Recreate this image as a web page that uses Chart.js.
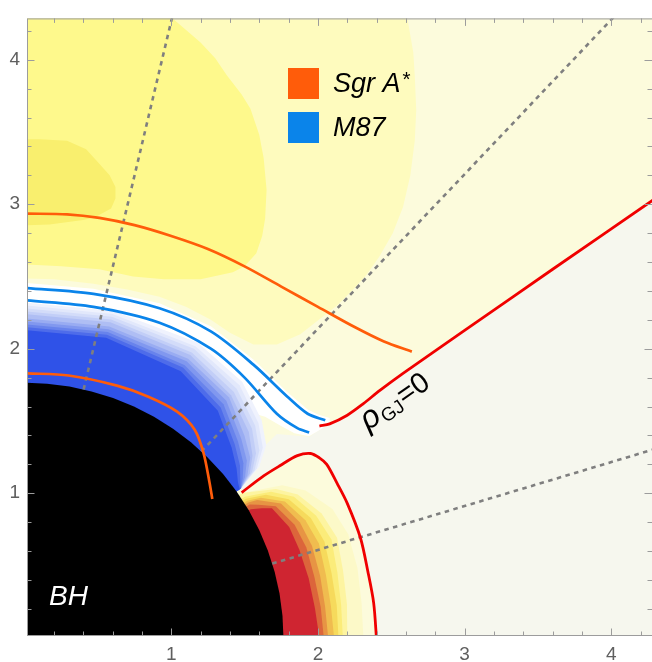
<!DOCTYPE html>
<html>
<head>
<meta charset="utf-8">
<script src="https://cdn.jsdelivr.net/npm/chart.js@4.4.0/dist/chart.umd.min.js"></script>
<style>
  html, body { margin: 0; padding: 0; background: #fff; }
  #wrap { position: relative; width: 652px; height: 662px; }
</style>
</head>
<body>
<div id="wrap"><canvas id="chart"></canvas></div>
<script>
// axes
const X_RANGE = [0.017, 4.277];
const Y_RANGE = [0.012, 4.286];
const MAJOR_TICKS = [1, 2, 3, 4];
const MINOR_TICKS = [0.2, 0.4, 0.6, 0.8, 1.2, 1.4, 1.6, 1.8, 2.2, 2.4, 2.6, 2.8, 3.2, 3.4, 3.6, 3.8, 4.2];

// legend
const LEGEND_NAMES = ['Sgr A', 'M87'];
const ORANGE = '#ff5c0a';
const BLUE = '#0a84ea';
const RED = '#f00000';

// background contour levels, [x, y]
const FRAME_BOX = [[-0.1, -0.1], [4.4, -0.1], [4.4, 4.4], [-0.1, 4.4]];
const YELLOW_L2 = [[-0.1, 4.4], [2.60, 4.4], [2.61, 4.285], [2.65, 4.05], [2.66, 3.89], [2.67, 3.65], [2.66, 3.44],
  [2.63, 3.20], [2.58, 2.98], [2.51, 2.80], [2.42, 2.64], [2.33, 2.51], [2.24, 2.41], [2.13, 2.30], [2.03, 2.22],
  [1.88, 2.10], [1.72, 2.03], [1.56, 2.03], [1.40, 2.11], [1.27, 2.20], [1.10, 2.29], [0.92, 2.36], [0.70, 2.41],
  [0.47, 2.45], [0.20, 2.48], [-0.1, 2.49]];
const YELLOW_L3 = [[-0.1, 4.4], [1.03, 4.4], [1.01, 4.285], [1.20, 4.12], [1.30, 4.01], [1.38, 3.89], [1.48, 3.76],
  [1.54, 3.66], [1.60, 3.48], [1.63, 3.32], [1.65, 3.10], [1.64, 2.90], [1.62, 2.78], [1.58, 2.66], [1.50, 2.57],
  [1.42, 2.53], [1.20, 2.48], [0.95, 2.48], [0.74, 2.50], [0.51, 2.55], [0.25, 2.57], [-0.1, 2.59]];
const YELLOW_L4 = [[-0.1, 3.45], [0.10, 3.45], [0.29, 3.44], [0.42, 3.38], [0.51, 3.28], [0.58, 3.20], [0.62, 3.12],
  [0.62, 3.04], [0.59, 2.97], [0.48, 2.91], [0.40, 2.89], [0.17, 2.86], [-0.1, 2.85]];
const PALE_BLUE = [[2.58, -0.1], [2.58, 0.015], [2.57, 0.30], [2.57, 0.58], [2.59, 0.85], [2.63, 0.94], [2.70, 1.01],
  [2.83, 1.09], [2.97, 1.14], [3.11, 1.17], [3.38, 1.18], [3.67, 1.14], [3.90, 1.05], [4.11, 0.96], [4.22, 0.88],
  [4.4, 0.75], [4.4, -0.1]];
const WHITE_ZONE = [[-0.1, 2.46], [0.017, 2.455], [0.47, 2.415], [0.92, 2.315], [1.27, 2.155], [1.56, 1.925],
  [1.79, 1.70], [1.93, 1.58], [2.00, 1.545], [2.08, 1.52], [2.08, 1.48], [2.00, 1.43], [1.94, 1.395], [1.84, 1.415],
  [1.74, 1.47], [1.64, 1.53], [1.40, 1.60], [0.80, 1.90], [-0.1, 2.0]];
const GREY_EDGE = [[1.47, 1.06], [1.56, 1.20], [1.64, 1.33], [1.72, 1.41], [1.84, 1.40], [1.94, 1.39], [2.01, 1.44]];
const GREY_CORNER = [[4.4, 3.10], [4.4, -0.1], [2.40, -0.1]];

// curves, [x, y]
const ORANGE_UPPER = [[0.017, 2.935], [0.29, 2.93], [0.51, 2.905], [0.75, 2.855], [1.00, 2.78], [1.25, 2.69],
  [1.50, 2.57], [1.75, 2.43], [2.00, 2.29], [2.25, 2.15], [2.45, 2.05], [2.64, 1.98]];
const ORANGE_LOWER = [[0.017, 1.83], [0.30, 1.815], [0.63, 1.745], [0.84, 1.67], [1.04, 1.565], [1.16, 1.44],
  [1.22, 1.28], [1.26, 1.08], [1.28, 0.96]];
const BLUE_UPPER = [[0.017, 2.42], [0.47, 2.38], [0.92, 2.28], [1.27, 2.12], [1.56, 1.89], [1.79, 1.67],
  [1.93, 1.55], [2.05, 1.505]];
const BLUE_LOWER = [[0.017, 2.335], [0.47, 2.29], [0.92, 2.18], [1.27, 2.00], [1.50, 1.80], [1.72, 1.55],
  [1.86, 1.45], [1.94, 1.42]];
const RED_OUTER = [[2.01, 1.465], [2.08, 1.48], [2.20, 1.54], [2.31, 1.62], [2.42, 1.71], [2.58, 1.83],
  [2.99, 2.12], [3.60, 2.55], [4.30, 3.04]];
const RED_INNER = [[1.48, 1.005], [1.63, 1.12], [1.74, 1.19], [1.86, 1.26], [1.95, 1.275], [2.01, 1.245],
  [2.06, 1.20], [2.13, 1.07], [2.20, 0.93], [2.29, 0.69], [2.34, 0.46], [2.38, 0.24], [2.40, -0.02]];
const DOTTED = [
  [[0.403, 1.718], [1.01, 4.31]],
  [[1.206, 1.289], [4.03, 4.31]],
  [[1.689, 0.513], [4.30, 1.307]]
];

// bands round the hole, [angle from the y axis in degrees, radius]
const BLUE_BANDS = [
  [[0, 2.32], [15, 2.34], [30, 2.36], [40, 2.31], [47, 2.21], [51, 2.12], [53.5, 1.99], [55, 1.80]],
  [[0, 2.30], [15, 2.32], [30, 2.33], [40, 2.28], [47, 2.18], [51, 2.09], [53.5, 1.97], [55, 1.80]],
  [[0, 2.28], [15, 2.30], [30, 2.31], [40, 2.25], [47, 2.15], [51, 2.06], [53.5, 1.95], [55, 1.80]],
  [[0, 2.26], [15, 2.28], [30, 2.28], [40, 2.22], [47, 2.12], [51, 2.03], [53.5, 1.93], [55, 1.80]],
  [[0, 2.24], [15, 2.26], [30, 2.26], [40, 2.19], [47, 2.09], [51, 2.00], [53.5, 1.91], [55, 1.80]],
  [[0, 2.21], [15, 2.23], [30, 2.23], [40, 2.17], [47, 2.05], [51, 1.98], [53.5, 1.89], [55, 1.80]],
  [[0, 2.19], [15, 2.21], [30, 2.21], [40, 2.14], [47, 2.02], [51, 1.95], [53.5, 1.87], [55, 1.80]],
  [[0, 2.17], [15, 2.19], [30, 2.18], [40, 2.11], [47, 1.99], [51, 1.92], [53.5, 1.85], [55, 1.80]],
  [[0, 2.15], [15, 2.17], [30, 2.16], [40, 2.08], [47, 1.96], [51, 1.89], [53.5, 1.83], [55, 1.80]],
  [[0, 2.13], [15, 2.15], [30, 2.13], [40, 2.05], [47, 1.93], [51, 1.86], [53.5, 1.81], [55, 1.79]]
];
const BLUE_BAND_COLORS = ['#eff2fd', '#e2e8fb', '#d3dcf9', '#c2cef7', '#afbef4', '#99acf2', '#8198ef',
  '#6883ec', '#4e6cea', '#2f52e8'];

const RED_BANDS = [
  [[56, 1.79], [59, 2.05], [62, 2.17], [67, 2.28], [72, 2.32], [78, 2.32], [84, 2.31], [90, 2.31]],
  [[56, 1.79], [59, 2.00], [62, 2.11], [67, 2.20], [72, 2.24], [78, 2.22], [84, 2.21], [90, 2.20]],
  [[57, 1.79], [59, 1.96], [62, 2.08], [67, 2.16], [72, 2.20], [78, 2.18], [84, 2.17], [90, 2.17]],
  [[57.5, 1.79], [59, 1.92], [62, 2.04], [67, 2.12], [72, 2.15], [78, 2.14], [84, 2.14], [90, 2.14]],
  [[58, 1.79], [59, 1.88], [62, 2.01], [67, 2.08], [72, 2.11], [78, 2.10], [84, 2.10], [90, 2.11]],
  [[58.5, 1.79], [59, 1.85], [62, 1.98], [67, 2.04], [72, 2.06], [78, 2.06], [84, 2.06], [90, 2.07]],
  [[59, 1.79], [60, 1.84], [62, 1.94], [67, 2.00], [72, 2.02], [78, 2.02], [84, 2.03], [90, 2.04]],
  [[60, 1.78], [61, 1.85], [62, 1.91], [67, 1.96], [72, 1.97], [78, 1.98], [84, 1.99], [90, 2.01]]
];
const RED_BAND_COLORS = ['#fcf9c8', '#fdf4a0', '#fbec7a', '#f6da5c', '#f0bc4f', '#e79444', '#dc653b', '#cf2531'];

const BH_RADIUS = 1.765;
const BH_ANGLES = [0, 5, 10, 15, 20, 25, 30, 35, 40, 45, 50, 55, 60, 65, 70, 75, 80, 85, 90];

const toXY = pts => pts.map(([x, y]) => ({ x, y }));
const polar = pts => pts.map(([t, r]) => ({
  x: r * Math.sin(t * Math.PI / 180),
  y: r * Math.cos(t * Math.PI / 180)
}));
const ORIGIN = { x: 0, y: 0 };

function region(points, color) {
  return {
    data: points, showLine: true, fill: 'shape', backgroundColor: color,
    borderColor: 'rgba(0,0,0,0)', borderWidth: 0, pointRadius: 0, tension: 0, clip: 0
  };
}
function curve(points, color, width, dash) {
  return {
    data: points, showLine: true, fill: false, borderColor: color, borderWidth: width,
    borderDash: dash || [], pointRadius: 0, tension: dash ? 0 : 0.3, clip: 0
  };
}

// painter's order: first is at the back
const layers = [];
layers.push(region(toXY(FRAME_BOX), '#fcfbdc'));
layers.push(region(toXY(YELLOW_L2), '#fefbbe'));
layers.push(region(toXY(YELLOW_L3), '#fef98c'));
layers.push(region(toXY(YELLOW_L4), '#f9ef6e'));
layers.push(region(toXY(PALE_BLUE), '#eef2fc'));
layers.push(region(toXY([...RED_OUTER, ...GREY_CORNER, ...RED_INNER.slice().reverse(), ...GREY_EDGE]), '#f6f7ee'));
layers.push(region(toXY(WHITE_ZONE), '#ffffff'));
BLUE_BANDS.forEach((b, i) => layers.push(region([...polar(b), ORIGIN], BLUE_BAND_COLORS[i])));
RED_BANDS.forEach((b, i) => layers.push(region([...polar(b), ORIGIN], RED_BAND_COLORS[i])));
layers.push(region([...polar(BH_ANGLES.map(t => [t, BH_RADIUS])), ORIGIN], '#000000'));
DOTTED.forEach(d => layers.push(curve(toXY(d), '#7f7f7f', 2.6, [4.5, 4.5])));
layers.push(curve(toXY(ORANGE_UPPER), ORANGE, 2.7));
layers.push(curve(toXY(ORANGE_LOWER), ORANGE, 2.7));
layers.push(curve(toXY(BLUE_UPPER), BLUE, 2.7));
layers.push(curve(toXY(BLUE_LOWER), BLUE, 2.7));
layers.push(curve(toXY(RED_OUTER), RED, 2.8));
layers.push(curve(toXY(RED_INNER), RED, 2.8));

const datasets = layers.map((d, i) => ({ ...d, order: layers.length - i }));

// frame with inward ticks on all four sides
const framePlugin = {
  id: 'frame',
  afterDatasetsDraw(chart) {
    const { ctx, chartArea: a, scales: { x, y } } = chart;
    ctx.save();
    ctx.strokeStyle = '#9c9c9c';
    ctx.lineWidth = 1;
    ctx.strokeRect(a.left + 0.5, a.top + 0.5, a.right - a.left, a.bottom - a.top - 1);
    const mark = (v, len) => {
      const px = Math.round(x.getPixelForValue(v)) + 0.5;
      const py = Math.round(y.getPixelForValue(v)) + 0.5;
      ctx.beginPath();
      ctx.moveTo(px, a.bottom); ctx.lineTo(px, a.bottom - len);
      ctx.moveTo(px, a.top); ctx.lineTo(px, a.top + len);
      ctx.moveTo(a.left, py); ctx.lineTo(a.left + len, py);
      ctx.moveTo(a.right, py); ctx.lineTo(a.right - len, py);
      ctx.stroke();
    };
    MAJOR_TICKS.forEach(v => mark(v, 7.5));
    MINOR_TICKS.forEach(v => mark(v, 4.5));
    ctx.restore();
  }
};

// legend and text labels
const labelPlugin = {
  id: 'labels',
  afterDraw(chart) {
    const ctx = chart.ctx;
    ctx.save();
    ctx.textBaseline = 'alphabetic';
    [ORANGE, BLUE].forEach((c, i) => {
      ctx.fillStyle = c;
      ctx.fillRect(288, 68 + i * 44, 31, 31);
      ctx.fillStyle = '#000';
      ctx.font = 'italic 27px "Liberation Sans", Arial, sans-serif';
      ctx.fillText(LEGEND_NAMES[i], 333, 92 + i * 44);
      if (i === 0) {
        const w = ctx.measureText(LEGEND_NAMES[i]).width;
        ctx.font = 'italic 21px "Liberation Sans", Arial, sans-serif';
        ctx.fillText('*', 333 + w + 1, 86);
      }
    });

    ctx.fillStyle = '#fff';
    ctx.font = 'italic 28px "Liberation Sans", Arial, sans-serif';
    ctx.fillText('BH', 49, 605);

    ctx.translate(368, 431);
    ctx.rotate(-35 * Math.PI / 180);
    ctx.fillStyle = '#000';
    ctx.font = 'italic 32px "Liberation Sans", Arial, sans-serif';
    ctx.fillText('ρ', 0, 0);
    let w = ctx.measureText('ρ').width + 1;
    ctx.font = '19px "Liberation Sans", Arial, sans-serif';
    ctx.fillText('GJ', w, 4);
    w += ctx.measureText('GJ').width + 1;
    ctx.font = '29px "Liberation Sans", Arial, sans-serif';
    ctx.fillText('=0', w, 0);
    ctx.restore();
  }
};

const tickFont = { family: '"Liberation Sans", Arial, sans-serif', size: 19 };

new Chart(document.getElementById('chart'), {
  type: 'scatter',
  data: { datasets },
  options: {
    responsive: true,
    maintainAspectRatio: false,
    animation: false,
    layout: { padding: { top: 9, right: 0, left: 0, bottom: 0 } },
    plugins: { legend: { display: false }, tooltip: { enabled: false } },
    scales: {
      x: {
        type: 'linear', position: 'bottom', min: X_RANGE[0], max: X_RANGE[1],
        grid: { display: false, drawTicks: false }, border: { display: false },
        afterBuildTicks: s => { s.ticks = MAJOR_TICKS.map(v => ({ value: v })); },
        afterFit: s => { s.height = 26; },
        ticks: { font: tickFont, color: '#5f5f5f', padding: 7, maxRotation: 0, autoSkip: false, callback: v => String(v) }
      },
      y: {
        type: 'linear', position: 'left', min: Y_RANGE[0], max: Y_RANGE[1],
        grid: { display: false, drawTicks: false }, border: { display: false },
        afterBuildTicks: s => { s.ticks = MAJOR_TICKS.map(v => ({ value: v })); },
        afterFit: s => { s.width = 27; },
        ticks: { font: tickFont, color: '#5f5f5f', padding: 7, autoSkip: false, callback: v => String(v) }
      }
    }
  },
  plugins: [framePlugin, labelPlugin]
});
</script>
</body>
</html>
